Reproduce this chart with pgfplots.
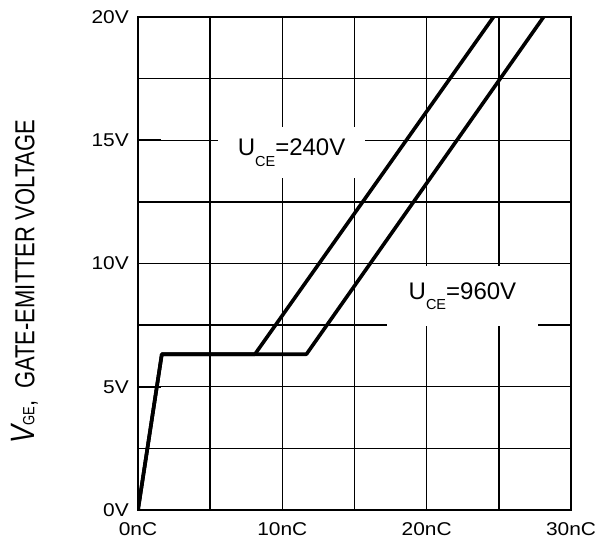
\documentclass[border=0pt]{standalone}
\usepackage{fontspec}
\setmainfont{Liberation Sans}
\newfontfamily\tickfont{Liberation Sans}[FakeStretch=1.13]
\usepackage{pgfplots}
\pgfplotsset{compat=1.18}

\newcommand{\uce}[1]{{\fontsize{24}{24}\selectfont U\raisebox{-10.5pt}{\fontsize{14.5}{14.5}\selectfont CE}=#1}}

\begin{document}
\begin{tikzpicture}
\begin{axis}[
    scale only axis,
    width=433pt, height=493pt,
    xmin=0, xmax=30, ymin=0, ymax=20,
    xtick={0,5,10,15,20,25,30},
    ytick={0,2.5,5,7.5,10,12.5,15,17.5,20},
    xticklabels={0nC,,10nC,,20nC,,30nC},
    yticklabels={0V,,5V,,10V,,15V,,20V},
    grid=major,
    major grid style={black, line width=1.4pt},
    axis line style={black, line width=1.5pt},
    tick pos=left, tick align=inside,
    major tick length=23pt,
    ytick style={black, line width=1.7pt},
    xtick style={draw=none},
    xticklabel style={font=\tickfont\fontsize{18.5}{18.5}\selectfont, anchor=center, inner sep=0pt, yshift=-19pt},
    yticklabel style={font=\tickfont\fontsize{18.5}{18.5}\selectfont, anchor=east, inner sep=0pt, xshift=-9pt},
    ylabel={\scalebox{1}[1.25]{\fontsize{27}{27}\selectfont\itshape V\upshape\fontsize{13}{13}\selectfont GE\fontsize{22}{22}\selectfont,\ \ GATE-EMITTER VOLTAGE}},
    ylabel style={at={(rel axis cs:-0.262,0.463)}, anchor=center, inner sep=0pt},
    clip=true,
]

% U_CE = 240 V
\addplot[black, line width=3.6pt, line join=round] coordinates {
    (0,0) (1.65,6.32) (8.1,6.32) (24.63,20)
};
% U_CE = 960 V
\addplot[black, line width=3.6pt, line join=round] coordinates {
    (0,0) (1.65,6.32) (11.67,6.32) (28.1,20)
};

\node[fill=white, inner sep=0pt, minimum width=147pt, minimum height=51pt] at (axis cs:10.64,14.5) {\uce{240V}};
\node[fill=white, inner sep=0pt, minimum width=151pt, minimum height=60pt] at (axis cs:22.48,8.68) {\uce{960V}};

\end{axis}
% page frame
\path (-138pt,-35pt) rectangle (466pt,510pt);
\end{tikzpicture}
\end{document}
